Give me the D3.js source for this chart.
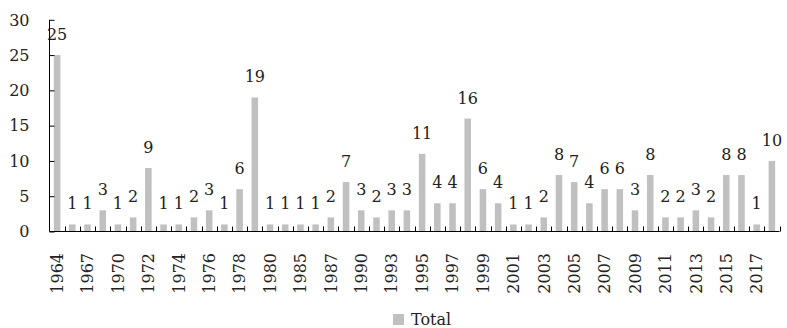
<!DOCTYPE html>
<html>
<head>
<meta charset="utf-8">
<script src="https://cdn.jsdelivr.net/npm/d3@7"></script>
<style>
  html, body { margin: 0; padding: 0; background: #fff; }
  svg text { font-family: "DejaVu Serif", "Liberation Serif", serif; fill: #222; }
</style>
</head>
<body>
<svg id="chart" width="787" height="328"></svg>
<script>
// Years (categories) and the yearly totals
const years = [
  "1964","1966","1967","1969","1970","1971","1972","1973","1974","1975",
  "1976","1977","1978","1979","1980","1984","1985","1986","1987","1988",
  "1990","1992","1993","1994","1995","1996","1997","1998","1999","2000",
  "2001","2002","2003","2004","2005","2006","2007","2008","2009","2010",
  "2011","2012","2013","2014","2015","2016","2017","2018"
];
const totals = [
  25,1,1,3,1,2,9,1,1,2,
  3,1,6,19,1,1,1,1,2,7,
  3,2,3,3,11,4,4,16,6,4,
  1,1,2,8,7,4,6,6,3,8,
  2,2,3,2,8,8,1,10
];
// Only every other year is labelled on the axis
const shownYears = years.filter((d, i) => i % 2 === 0);
const yTicks = [0, 5, 10, 15, 20, 25, 30];
const seriesName = "Total";

const svg = d3.select("#chart");
const fs = 16;
const barColor = "#c0c0c0";

const x = d3.scaleBand().domain(years).range([49.5, 779.5]).paddingInner(0.57).paddingOuter(0.285);
const y = d3.scaleLinear().domain([0, 30]).range([231.5, 19.8]);

// Bars
svg.append("g").selectAll("rect")
  .data(years.map((d, i) => ({ year: d, value: totals[i] })))
  .join("rect")
  .attr("x", d => x(d.year))
  .attr("y", d => y(d.value))
  .attr("width", x.bandwidth())
  .attr("height", d => y(0) - y(d.value))
  .attr("fill", barColor);

// Value labels above bars
svg.append("g").selectAll("text")
  .data(years.map((d, i) => ({ year: d, value: totals[i] })))
  .join("text")
  .attr("x", d => x(d.year) + x.bandwidth() / 2)
  .attr("y", d => y(d.value) - 15)
  .attr("text-anchor", "middle")
  .style("font-size", fs + "px")
  .text(d => d.value);

// Y axis with inward ticks
const yAxis = svg.append("g")
  .attr("transform", "translate(49.5,0)")
  .call(d3.axisRight(y).tickValues(yTicks).tickSize(5).tickFormat(""));
yAxis.select(".domain").attr("d", `M0,${y(30)}V${y(0)}`).attr("stroke", "#000");
yAxis.selectAll(".tick line").attr("stroke", "#000");

svg.append("g").selectAll("text")
  .data(yTicks)
  .join("text")
  .attr("x", 29.5)
  .attr("y", d => y(d))
  .attr("dy", "0.36em")
  .attr("text-anchor", "end")
  .style("font-size", fs + "px")
  .text(d => d);

// X axis: baseline with upward ticks at category boundaries
const step = x.step();
const boundaries = d3.range(years.length + 1).map(i => 49.5 + i * (730 / years.length));
const xg = svg.append("g");
xg.append("line")
  .attr("x1", 49.5).attr("x2", 779.5)
  .attr("y1", y(0)).attr("y2", y(0))
  .attr("stroke", "#000");
xg.selectAll("line.tk")
  .data(boundaries.slice(1))
  .join("line")
  .attr("class", "tk")
  .attr("x1", d => Math.round(d) + 0.5).attr("x2", d => Math.round(d) + 0.5)
  .attr("y1", y(0)).attr("y2", y(0) - 5)
  .attr("stroke", "#000");

// Rotated year labels
svg.append("g").selectAll("text")
  .data(shownYears)
  .join("text")
  .attr("transform", d => `translate(${x(d) + x.bandwidth() / 2},253) rotate(-90)`)
  .attr("dy", "0.36em")
  .attr("text-anchor", "end")
  .style("font-size", fs + "px")
  .text(d => d);

// Legend
const lg = svg.append("g").attr("transform", "translate(393,314)");
lg.append("rect").attr("width", 11).attr("height", 11).attr("fill", barColor);
lg.append("text")
  .attr("x", 18).attr("y", 11)
  .style("font-size", fs + "px")
  .text(seriesName);
</script>
</body>
</html>
